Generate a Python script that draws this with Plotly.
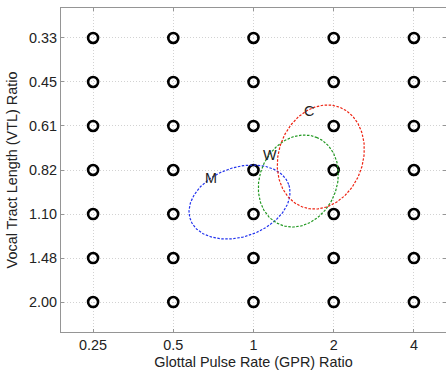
import numpy as np
import plotly.graph_objects as go

# ---- data ----
gpr_labels = ["0.25", "0.5", "1", "2", "4"]
vtl_labels = ["0.33", "0.45", "0.61", "0.82", "1.10", "1.48", "2.00"]

# ellipses: centre in grid-index coordinates (x: GPR index, y: VTL index),
# semi-axes in screen pixels, rotation in degrees (counter-clockwise on screen)
ell_names = ["M", "W", "C"]
ell_cx = [1.826, 2.559, 2.839]
ell_cy = [3.727, 3.250, 2.705]
ell_a = [52.2, 47.3, 53.2]
ell_b = [34.6, 38.5, 42.1]
ell_ang = [19.6, 66.6, 70.1]
ell_colors = ["#2233ee", "#229922", "#ee2211"]
lab_x = [1.47, 2.20, 2.69]
lab_y = [3.19, 2.66, 1.65]

# ---- layout geometry ----
W, H = 446, 376
ML, MR, MT, MB = 61, 0, 8, 44
xr = [-0.4, 4.4]
yr = [6.68, -0.68]
ux = (W - ML - MR) / (xr[1] - xr[0])
uy = (H - MT - MB) / (yr[0] - yr[1])

FONT = "Liberation Sans, Arial, sans-serif"
FS = 14.4

fig = go.Figure()

gx, gy = np.meshgrid(np.arange(len(gpr_labels)), np.arange(len(vtl_labels)))
fig.add_trace(go.Scatter(
    x=gx.ravel(), y=gy.ravel(), mode="markers",
    marker=dict(symbol="circle-open", size=10, color="black",
                line=dict(width=2.6, color="black")),
    showlegend=False, hoverinfo="skip"))

t = np.linspace(0, 2 * np.pi, 200)
for i, name in enumerate(ell_names):
    th = np.deg2rad(ell_ang[i])
    dx_px = ell_a[i] * np.cos(th) * np.cos(t) - ell_b[i] * np.sin(th) * np.sin(t)
    dy_px = ell_a[i] * np.sin(th) * np.cos(t) + ell_b[i] * np.cos(th) * np.sin(t)
    xs = ell_cx[i] + dx_px / ux
    ys = ell_cy[i] - dy_px / uy  # reversed y axis: screen up = smaller index
    fig.add_trace(go.Scatter(x=xs, y=ys, mode="lines",
                             line=dict(color=ell_colors[i], width=1.2, dash="2.5px,1.5px"),
                             showlegend=False, hoverinfo="skip"))
    fig.add_annotation(x=lab_x[i], y=lab_y[i], text=name, showarrow=False,
                       font=dict(size=FS, color="#222222", family=FONT))

axis_common = dict(
    showgrid=True, gridcolor="#d2d2d2", griddash="1px,2px", gridwidth=1,
    showline=True, linecolor="#959595", linewidth=1, mirror="ticks",
    ticks="inside", ticklen=3, tickcolor="#959595", zeroline=False,
    tickfont=dict(size=FS, color="#222222", family=FONT),
)

fig.update_xaxes(range=xr, tickmode="array",
                 tickvals=list(range(len(gpr_labels))), ticktext=gpr_labels,
                 title=dict(text="Glottal Pulse Rate (GPR) Ratio", standoff=4,
                            font=dict(size=FS, color="#222222", family=FONT)),
                 **axis_common)
fig.update_yaxes(range=yr, tickmode="array",
                 tickvals=list(range(len(vtl_labels))), ticktext=vtl_labels,
                 title=dict(text="Vocal Tract Length (VTL) Ratio", standoff=8,
                            font=dict(size=FS, color="#222222", family=FONT)),
                 **axis_common)

fig.update_layout(width=W, height=H, margin=dict(l=ML, r=MR, t=MT, b=MB),
                  plot_bgcolor="white", paper_bgcolor="white")

fig.write_html("out.html")
